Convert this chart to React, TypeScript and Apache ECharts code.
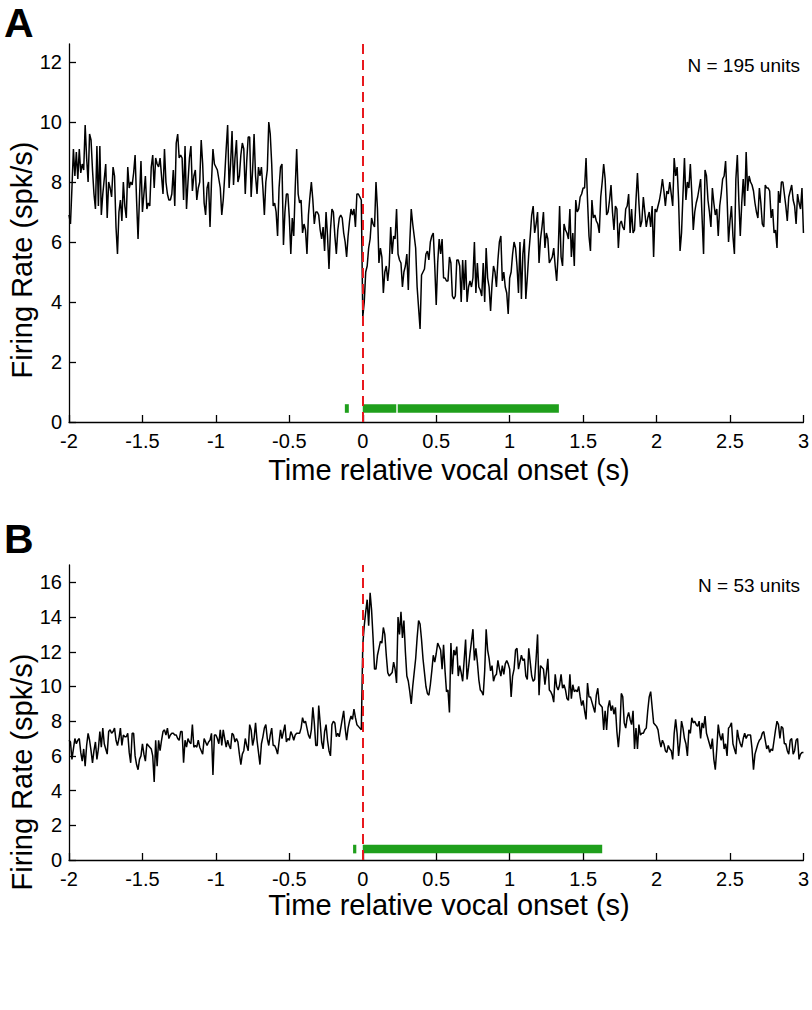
import React, { useEffect, useRef } from "react";
import * as echarts from "echarts";

// Population PSTH, 10 ms bins from -2 s to 3 s (501 bins)
const rateA: number[] = [
  6.9, 6.6, 7.8, 9.1, 8.2, 9.0, 8.1, 9.1, 8.3, 8.6,
  8.4, 9.9, 8.8, 8.0, 9.6, 9.4, 8.4, 7.6, 7.1, 9.2,
  7.2, 9.2, 6.9, 7.6, 8.1, 8.6, 6.8, 8.0, 7.8, 7.5,
  8.5, 8.2, 6.5, 5.6, 7.0, 7.4, 6.7, 8.0, 7.2, 6.8,
  8.5, 7.8, 8.0, 7.9, 8.3, 8.9, 7.4, 6.1, 7.5, 8.7,
  7.0, 7.6, 8.2, 7.1, 7.3, 7.2, 8.5, 8.9, 7.8, 8.8,
  8.6, 8.5, 8.8, 8.2, 7.6, 9.1, 8.0, 7.6, 7.4, 7.4,
  7.6, 8.4, 7.2, 9.3, 9.6, 8.8, 8.9, 8.8, 7.4, 9.2,
  7.1, 8.0, 8.8, 9.2, 7.7, 8.2, 8.4, 7.4, 7.8, 8.0,
  9.4, 8.6, 7.3, 6.9, 7.8, 8.0, 6.5, 8.0, 9.1, 8.6,
  8.5, 8.4, 8.1, 7.8, 6.9, 7.4, 8.2, 9.1, 9.9, 7.8,
  8.6, 9.7, 7.9, 8.8, 9.4, 8.0, 8.2, 8.9, 9.3, 9.1,
  7.6, 8.7, 9.5, 9.5, 7.5, 8.4, 9.6, 8.2, 7.6, 8.5,
  8.2, 8.5, 7.8, 6.9, 8.0, 8.4, 10.0, 9.6, 8.6, 7.2,
  7.3, 7.0, 6.2, 7.8, 8.5, 8.6, 5.9, 7.0, 7.6, 7.6,
  6.8, 5.6, 6.8, 6.2, 7.8, 9.1, 7.6, 7.3, 7.4, 6.3,
  6.6, 6.4, 5.6, 6.9, 7.5, 8.0, 7.4, 6.6, 7.0, 7.0,
  6.9, 6.4, 6.1, 6.5, 5.7, 7.0, 6.2, 5.1, 6.4, 7.1,
  7.0, 6.2, 5.6, 6.4, 6.8, 6.9, 6.8, 6.3, 6.0, 5.5,
  6.2, 6.7, 7.1, 6.9, 7.1, 6.5, 7.6, 7.6, 7.5, 7.4,
  3.5, 4.0, 5.0, 5.2, 5.8, 6.1, 6.8, 6.6, 6.5, 8.0,
  7.1, 5.3, 5.8, 5.5, 4.3, 5.0, 5.2, 4.7, 5.2, 6.5,
  5.6, 6.2, 6.1, 7.1, 5.6, 5.4, 5.3, 4.5, 5.0, 5.2,
  5.6, 4.4, 6.0, 7.1, 6.6, 6.2, 5.8, 4.5, 3.8, 3.1,
  4.9, 5.0, 5.1, 5.6, 5.7, 5.4, 6.0, 6.2, 6.3, 5.2,
  3.9, 5.3, 6.1, 5.6, 6.1, 4.8, 4.8, 4.7, 4.7, 5.5,
  5.3, 4.2, 4.1, 4.2, 5.4, 5.4, 5.2, 4.0, 5.4, 4.4,
  5.4, 4.0, 4.5, 4.7, 4.5, 4.8, 6.0, 4.3, 5.3, 4.5,
  4.4, 4.2, 5.3, 4.0, 5.8, 4.8, 4.5, 3.7, 4.6, 5.2,
  5.0, 4.5, 5.4, 6.0, 6.2, 4.7, 5.0, 4.5, 4.3, 3.6,
  4.8, 5.0, 5.6, 6.0, 5.8, 5.2, 4.3, 6.0, 4.1, 5.6,
  6.1, 4.1, 4.8, 5.6, 6.2, 6.9, 7.2, 6.3, 6.6, 7.0,
  5.3, 6.1, 6.5, 7.0, 5.8, 6.3, 6.1, 5.3, 5.4, 5.5,
  5.8, 5.2, 4.7, 5.6, 7.2, 5.5, 5.2, 6.6, 6.4, 6.3,
  6.1, 7.1, 5.5, 6.3, 5.2, 7.4, 7.0, 7.1, 7.5, 7.6,
  7.8, 7.8, 8.8, 7.4, 6.2, 5.7, 7.4, 6.8, 6.9, 6.7,
  6.6, 6.3, 7.5, 8.0, 8.6, 8.1, 6.9, 7.0, 7.4, 7.9,
  7.0, 6.4, 7.2, 7.1, 5.8, 6.6, 6.7, 6.5, 6.4, 7.1,
  7.2, 7.6, 6.3, 7.1, 6.3, 6.4, 7.4, 8.3, 7.3, 6.5,
  6.7, 7.5, 7.0, 6.5, 6.8, 7.0, 6.5, 7.2, 5.5, 7.1,
  7.0, 7.2, 7.4, 7.7, 8.1, 7.7, 7.2, 7.7, 7.6, 8.0,
  7.6, 7.2, 8.8, 8.2, 8.5, 7.4, 5.7, 6.3, 7.6, 8.8,
  7.4, 8.0, 7.8, 8.6, 7.6, 6.4, 7.0, 7.3, 7.5, 7.8,
  8.1, 6.8, 5.6, 8.4, 8.2, 7.4, 7.0, 6.5, 7.8, 7.3,
  6.9, 7.1, 6.2, 7.2, 7.6, 8.1, 8.2, 8.7, 7.5, 6.0,
  6.7, 7.2, 6.2, 5.6, 8.1, 8.9, 7.4, 6.2, 7.3, 8.1,
  7.2, 9.0, 7.7, 8.2, 8.0, 7.9, 7.7, 7.3, 7.0, 6.8,
  7.8, 7.3, 6.6, 6.5, 7.9, 7.8, 7.8, 7.7, 6.8, 7.1,
  6.3, 6.4, 5.8, 7.7, 7.3, 8.0, 8.0, 7.6, 7.2, 6.7,
  7.5, 7.7, 7.9, 7.4, 7.2, 6.6, 7.6, 7.3, 7.1, 7.8,
  6.3,
];

const rateB: number[] = [
  6.9, 6.8, 5.8, 6.4, 7.0, 6.7, 6.9, 7.0, 6.2, 5.7,
  6.4, 5.4, 6.6, 7.3, 6.9, 6.3, 5.6, 6.3, 6.8, 5.8,
  6.4, 7.4, 6.5, 7.6, 6.7, 6.4, 6.1, 7.4, 7.5, 7.3,
  7.4, 7.6, 6.9, 6.6, 7.0, 7.6, 6.6, 7.2, 7.1, 7.1,
  7.3, 6.2, 5.6, 7.3, 7.3, 6.0, 5.5, 5.2, 5.8, 6.0,
  6.7, 6.1, 5.7, 6.7, 6.6, 6.5, 6.4, 6.0, 4.5, 6.9,
  5.4, 6.9, 6.3, 6.9, 7.4, 7.5, 7.2, 7.6, 7.0, 7.2,
  7.3, 7.3, 7.2, 7.2, 7.0, 6.9, 7.4, 7.4, 5.6, 6.9,
  6.5, 7.0, 6.8, 6.7, 7.8, 6.5, 6.6, 6.5, 6.9, 6.5,
  6.3, 6.1, 7.0, 6.8, 6.6, 6.8, 6.9, 7.3, 4.9, 7.2,
  7.2, 7.0, 6.7, 7.5, 6.6, 7.5, 7.0, 6.5, 6.9, 6.6,
  6.4, 7.3, 7.2, 6.8, 7.0, 6.8, 6.1, 5.5, 6.1, 6.3,
  7.0, 6.6, 6.3, 7.8, 7.5, 6.6, 7.0, 7.9, 6.9, 6.2,
  5.5, 6.7, 7.1, 7.6, 7.8, 7.0, 6.6, 7.2, 7.6, 6.6,
  6.6, 6.4, 6.1, 6.8, 7.5, 7.0, 7.4, 7.8, 6.8, 7.0,
  6.9, 7.4, 7.2, 6.9, 7.2, 7.3, 7.3, 7.3, 7.6, 8.2,
  7.9, 8.0, 7.6, 7.2, 7.0, 7.5, 8.8, 7.9, 6.6, 6.6,
  8.9, 7.9, 6.8, 6.4, 7.4, 7.8, 6.9, 6.3, 6.0, 7.8,
  8.0, 7.9, 7.1, 7.3, 7.1, 7.6, 8.1, 8.6, 7.6, 6.9,
  7.6, 8.0, 8.3, 8.1, 8.7, 8.2, 7.8, 7.7, 7.6, 7.5,
  12.4, 13.5, 14.3, 15.0, 13.5, 15.4, 14.4, 12.8, 11.0, 11.0,
  11.8, 12.2, 12.6, 12.5, 13.4, 13.0, 11.8, 10.8, 10.6, 10.7,
  10.8, 11.4, 11.0, 10.2, 14.0, 13.0, 14.3, 12.8, 13.8, 12.0,
  10.6, 10.3, 9.7, 9.0, 10.0, 10.8, 11.6, 12.8, 13.8, 13.6,
  12.7, 11.6, 10.8, 10.0, 9.6, 9.5, 10.1, 10.9, 11.8, 11.4,
  11.9, 12.5, 12.3, 12.1, 11.0, 12.4, 10.9, 9.7, 9.8, 8.5,
  12.5, 10.7, 12.1, 11.8, 12.3, 10.6, 11.2, 10.8, 10.3, 11.5,
  12.7, 10.4, 11.1, 11.9, 12.6, 13.3, 11.5, 12.2, 11.4, 10.4,
  9.8, 9.7, 9.5, 10.9, 13.3, 12.1, 11.6, 10.9, 11.2, 10.3,
  10.6, 10.7, 11.5, 11.0, 10.6, 11.2, 10.7, 11.3, 11.5, 11.3,
  11.0, 9.4, 10.6, 11.0, 12.1, 12.2, 11.0, 11.4, 11.8, 11.5,
  11.6, 10.6, 10.4, 12.2, 11.4, 10.6, 10.3, 10.4, 11.6, 13.0,
  9.5, 11.2, 11.1, 11.0, 10.1, 10.8, 11.6, 9.8, 9.7, 9.5,
  9.1, 10.7, 10.0, 9.8, 10.1, 10.7, 9.9, 10.1, 9.8, 9.3,
  9.2, 10.7, 9.3, 10.1, 9.7, 9.8, 9.7, 10.0, 9.4, 8.9,
  9.2, 8.6, 8.1, 10.2, 9.4, 9.4, 9.1, 8.8, 8.5, 9.5,
  9.9, 9.0, 8.9, 8.8, 7.5, 8.6, 7.5, 8.8, 9.2, 8.6,
  8.9, 8.4, 8.8, 7.4, 6.5, 7.5, 9.6, 9.4, 7.9, 7.6,
  8.2, 8.5, 8.1, 7.8, 8.6, 6.4, 7.6, 6.4, 7.8, 7.2,
  7.3, 7.3, 7.5, 7.6, 8.6, 9.4, 9.7, 8.8, 7.9, 7.8,
  7.7, 7.5, 6.9, 6.5, 6.9, 6.7, 6.3, 6.2, 6.6, 6.4,
  6.3, 5.8, 7.3, 8.1, 7.3, 6.0, 6.8, 8.0, 7.6, 7.0,
  6.7, 6.0, 7.5, 7.3, 8.2, 7.9, 8.0, 7.8, 7.7, 8.0,
  7.0, 7.9, 7.6, 8.3, 7.3, 7.0, 6.7, 6.4, 7.0, 5.8,
  5.2, 6.4, 7.8, 7.2, 6.9, 7.3, 6.4, 6.7, 6.0, 7.6,
  7.7, 7.9, 6.7, 6.4, 6.1, 7.5, 7.0, 6.7, 6.5, 7.0,
  7.3, 7.0, 7.2, 7.2, 7.2, 6.4, 5.2, 6.1, 6.4, 6.7,
  6.9, 7.0, 7.3, 7.4, 6.9, 6.4, 6.6, 6.2, 6.4, 6.3,
  6.9, 7.5, 8.0, 7.8, 7.0, 7.7, 7.6, 6.7, 6.7, 6.3,
  6.1, 6.9, 7.0, 6.1, 6.3, 6.9, 7.0, 5.8, 6.1, 6.2,
  6.2,
];

const T_START = -2;
const BIN_WIDTH = 0.01;

// significance bars: [start (s), end (s), level (spk/s)]
const sigBarsA: number[][] = [
  [-0.122, -0.095, 0.45],
  [0, 0.228, 0.45],
  [0.238, 1.335, 0.45],
];
const sigBarsB: number[][] = [
  [-0.066, -0.044, 0.63],
  [0, 1.63, 0.63],
];

const xTicks = [-2, -1.5, -1, -0.5, 0, 0.5, 1, 1.5, 2, 2.5, 3];
const yTicksA = [0, 2, 4, 6, 8, 10, 12];
const yTicksB = [0, 2, 4, 6, 8, 10, 12, 14, 16];
const yMaxA = 12.6;
const yMaxB = 17;

const titleX = "Time relative vocal onset (s)";
const titleY = "Firing Rate (spk/s)";
const unitsA = "N = 195 units";
const unitsB = "N = 53 units";

const FONT = "'Liberation Sans', Arial, Helvetica, sans-serif";
const RED = "#e8191e";
const GREEN = "#1f9f1c";

function toSeries(vals: number[]) {
  return vals.map((v, i) => [Math.round((T_START + i * BIN_WIDTH) * 100) / 100, v]);
}

function xAxisCfg(gridIndex: number) {
  return {
    type: "value",
    gridIndex,
    min: -2,
    max: 3,
    interval: 0.5,
    axisLine: { show: true, onZero: false, lineStyle: { color: "#000", width: 1.3 } },
    axisTick: { show: true, inside: true, length: 7, customValues: xTicks, lineStyle: { color: "#000", width: 1.3 } },
    axisLabel: { color: "#000", fontSize: 20, fontFamily: FONT, margin: 9, customValues: xTicks },
    splitLine: { show: false },
  };
}

function yAxisCfg(gridIndex: number, max: number, ticks: number[]) {
  return {
    type: "value",
    gridIndex,
    min: 0,
    max,
    interval: 2,
    axisLine: { show: true, onZero: false, lineStyle: { color: "#000", width: 1.3 } },
    axisTick: { show: true, inside: true, length: 7, customValues: ticks, lineStyle: { color: "#000", width: 1.3 } },
    axisLabel: {
      color: "#000",
      fontSize: 20,
      fontFamily: FONT,
      margin: 7,
      customValues: ticks,
    },
    splitLine: { show: false },
  };
}

function barSeries(idx: number, data: number[][]) {
  return {
    type: "custom",
    xAxisIndex: idx,
    yAxisIndex: idx,
    z: 3,
    silent: true,
    encode: { x: [0, 1], y: 2 },
    data,
    renderItem: (_p: any, api: any) => {
      const s = api.coord([api.value(0), api.value(2)]);
      const e = api.coord([api.value(1), api.value(2)]);
      return {
        type: "rect",
        shape: { x: s[0], y: s[1] - 4.3, width: Math.max(e[0] - s[0], 2), height: 8.6 },
        style: { fill: GREEN },
      };
    },
  };
}

function onsetSeries(idx: number) {
  return {
    type: "line",
    xAxisIndex: idx,
    yAxisIndex: idx,
    data: [],
    z: 5,
    markLine: {
      silent: true,
      symbol: "none",
      animation: false,
      label: { show: false },
      lineStyle: { color: RED, width: 2, type: [10, 6] },
      data: [{ xAxis: 0 }],
    },
  };
}

function traceSeries(idx: number, vals: number[]) {
  return {
    type: "line",
    xAxisIndex: idx,
    yAxisIndex: idx,
    data: toSeries(vals),
    showSymbol: false,
    symbol: "none",
    z: 4,
    lineStyle: { color: "#000", width: 1.5 },
  };
}

export default function App() {
  const ref = useRef<HTMLDivElement>(null);
  useEffect(() => {
    if (!ref.current) return;
    const chart = echarts.init(ref.current, undefined, { renderer: "svg" });
    const option: any = {
      animation: false,
      backgroundColor: "#fff",
      grid: [
        { left: 69, top: 44, width: 735, height: 378 },
        { left: 69, top: 565, width: 735, height: 295 },
      ],
      xAxis: [xAxisCfg(0), xAxisCfg(1)],
      yAxis: [yAxisCfg(0, yMaxA, yTicksA), yAxisCfg(1, yMaxB, yTicksB)],
      series: [
        traceSeries(0, rateA),
        traceSeries(1, rateB),
        barSeries(0, sigBarsA),
        barSeries(1, sigBarsB),
        onsetSeries(0),
        onsetSeries(1),
      ],
      graphic: [
        { type: "text", x: 4, y: 23, style: { text: "A", font: `bold 41px ${FONT}`, fill: "#000", verticalAlign: "middle", align: "left" } },
        { type: "text", x: 4, y: 539, style: { text: "B", font: `bold 41px ${FONT}`, fill: "#000", verticalAlign: "middle", align: "left" } },
        { type: "text", x: 800, y: 65, style: { text: unitsA, font: `19px ${FONT}`, fill: "#000", align: "right", verticalAlign: "middle" } },
        { type: "text", x: 800, y: 585, style: { text: unitsB, font: `19px ${FONT}`, fill: "#000", align: "right", verticalAlign: "middle" } },
        { type: "text", x: 449, y: 470, style: { text: titleX, font: `29px ${FONT}`, fill: "#000", align: "center", verticalAlign: "middle" } },
        { type: "text", x: 449, y: 905, style: { text: titleX, font: `29px ${FONT}`, fill: "#000", align: "center", verticalAlign: "middle" } },
        { type: "text", x: 22, y: 260, rotation: Math.PI / 2, style: { text: titleY, font: `29px ${FONT}`, fill: "#000", align: "center", verticalAlign: "middle" } },
        { type: "text", x: 22, y: 772, rotation: Math.PI / 2, style: { text: titleY, font: `29px ${FONT}`, fill: "#000", align: "center", verticalAlign: "middle" } },
      ],
    };
    chart.setOption(option);
    return () => chart.dispose();
  }, []);
  return (
    <div
      ref={ref}
      style={{ position: "absolute", left: 0, top: 0, width: 812, height: 1010, background: "#fff" }}
    />
  );
}
